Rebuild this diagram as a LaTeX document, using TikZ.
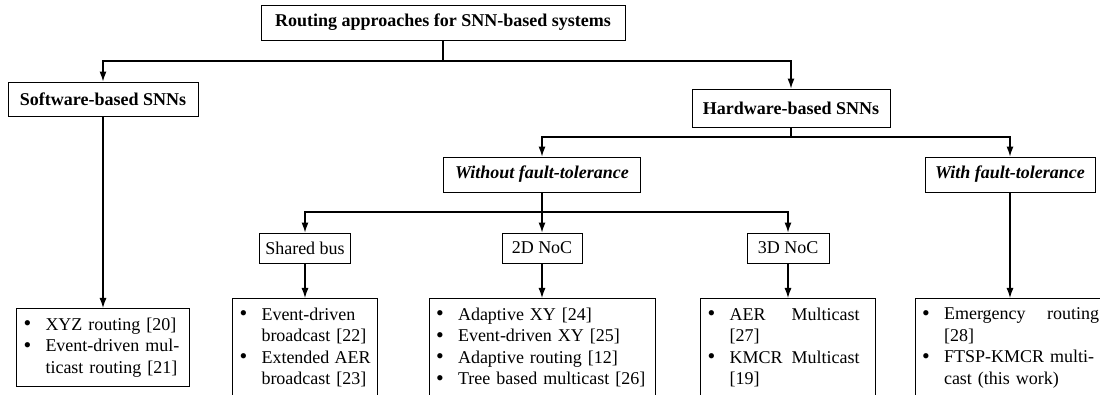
\documentclass[tikz,border=0pt]{standalone}
\usepackage{fontspec}
\setmainfont{Liberation Serif}
\usetikzlibrary{arrows.meta}
\newlength{\bw}\setlength{\bw}{22pt}
\newcommand{\bl}{\makebox[\bw][l]{\raisebox{-0.5pt}{\fontsize{22}{22}\selectfont\textbullet}}}
\newcommand{\nb}{\hspace*{\bw}}
\newcommand{\spread}[3]{\hbox to #1{#2\hfill #3}}
\tikzset{
  box/.style={draw, line width=0.9pt, inner sep=0pt, font=\fontsize{18}{21.5}\selectfont},
  lbl/.style={box, font=\fontsize{18}{21.5}\selectfont\bfseries},
  lbli/.style={box, font=\fontsize{18}{21.5}\selectfont\bfseries\itshape},
  lst/.style={draw, line width=0.9pt, anchor=north, align=left, inner xsep=7pt, inner ysep=9.5pt, font=\fontsize{18}{21.5}\selectfont},
  arr/.style={line width=1.2pt, -{Latex[length=10pt,width=7pt]}}
}
\begin{document}
\begin{tikzpicture}[x=1pt,y=1pt]
\useasboundingbox (0,0) rectangle (1100,-395);
\clip (0,0) rectangle (1100,-395);
% level boxes
\node[lbl, minimum width=364pt, minimum height=35pt] (root) at (443,-22.5) {Routing approaches for SNN-based systems};
\node[lbl, minimum width=190pt, minimum height=34pt] (soft) at (103,-99) {Software-based SNNs};
\node[lbl, minimum width=198pt, minimum height=38pt] (hard) at (791,-108) {Hardware-based SNNs};
\node[lbli, minimum width=197pt, minimum height=35pt] (wo) at (542,-174.5) {Without fault-tolerance};
\node[lbli, minimum width=170pt, minimum height=35pt] (wi) at (1010,-174.5) {With fault-tolerance};
\node[box, minimum width=91pt, minimum height=30pt] (sb) at (305,-248) {Shared bus};
\node[box, minimum width=80pt, minimum height=30pt] (n2) at (542,-248) {2D NoC};
\node[box, minimum width=82pt, minimum height=30pt] (n3) at (788,-248) {3D NoC};
% lists
\node[lst, text width=159pt] (l1) at (103,-308) {\bl XYZ routing [20]\\ \bl Event-driven mul-\\ \nb ticast routing [21]};
\node[lst, text width=131pt] (l2) at (305,-298) {\bl Event-driven\\ \nb broadcast [22]\\ \bl\spread{109pt}{Extended}{AER}\\ \nb broadcast [23]};
\node[lst, text width=212pt] (l3) at (542,-298) {\bl Adaptive XY [24]\\ \bl Event-driven XY [25]\\ \bl Adaptive routing [12]\\ \bl Tree based multicast [26]};
\node[lst, text width=161pt] (l4) at (788,-298) {\bl\spread{130pt}{AER}{Multicast}\\ \nb [27]\\ \bl\spread{130pt}{KMCR}{Multicast}\\ \nb [19]};
\node[lst, text width=176pt] (l5) at (1010,-298) {\bl\spread{155pt}{Emergency}{routing}\\ \nb [28]\\ \bl FTSP-KMCR multi-\\ \nb cast (this work)};
% bus levels
\coordinate (b1) at (0,-61);
\coordinate (b2) at (0,-137);
\coordinate (b3) at (0,-212);
% connectors
\draw[arr] (root.south) -- (root.south |- b1) -| (soft.north);
\draw[arr] (root.south) -- (root.south |- b1) -| (hard.north);
\draw[arr] (soft.south) -- (l1.north);
\draw[arr] (hard.south) -- (hard.south |- b2) -| (wo.north);
\draw[arr] (hard.south) -- (hard.south |- b2) -| (wi.north);
\draw[arr] (wo.south) -- (wo.south |- b3) -| (sb.north);
\draw[arr] (wo.south) -- (n2.north);
\draw[arr] (wo.south) -- (wo.south |- b3) -| (n3.north);
\draw[arr] (sb.south) -- (l2.north);
\draw[arr] (n2.south) -- (l3.north);
\draw[arr] (n3.south) -- (l4.north);
\draw[arr] (wi.south) -- (l5.north);
\end{tikzpicture}
\end{document}
